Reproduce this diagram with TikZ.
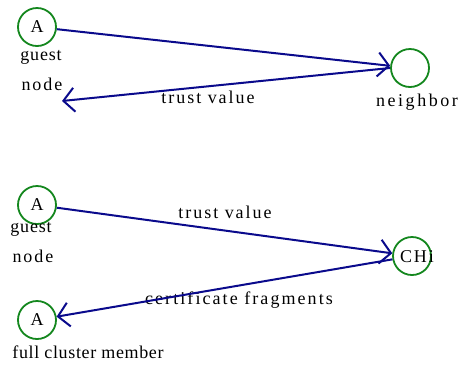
\documentclass[tikz,border=0pt]{standalone}
\usepackage{fontspec}
\setmainfont{Liberation Serif}
\usetikzlibrary{arrows.meta}
\definecolor{ringgreen}{RGB}{20,135,30}
\definecolor{linknavy}{RGB}{10,10,140}
\tikzset{
  peer/.style={circle, draw=ringgreen, line width=1.8pt, minimum size=38pt, inner sep=0pt, font=\fontsize{18}{18}\selectfont},
  caption/.style={anchor=base, inner sep=0pt, font=\fontsize{18}{18}\selectfont\addfontfeature{LetterSpace=#1}},
  caption/.default=8,
  link/.style={draw=linknavy, line width=2pt, -{Straight Barb[length=11pt,width=24pt,line width=2pt]}}
}
\begin{document}
\begin{tikzpicture}[x=1pt,y=-1pt]
\useasboundingbox (0,0) rectangle (462,365);
% upper exchange: guest node and neighbor
\node[peer] (a1) at (37,27) {A};
\node[peer] (nb) at (410,68) {};
\coordinate (ret1) at (62,101);
\node[caption=4.5] (g1) at (41,60) {guest};
\node[caption=11] (n1) at (42,90) {node};
\node[caption=14] (nbl) at (417,106) {neighbor};
\node[caption=11] (tv1) at (208,103) {trust value};
\draw[link] (a1) -- (nb);
\draw[link] (nb.west) -- (ret1);
% lower exchange: guest node, cluster head and full member
\node[peer] (a2) at (37,205) {A};
\node[peer] (chi) at (412,256) {};
\node[caption=11] (chil) at (417,262) {CHi};
\node[peer] (a3) at (37,320) {A};
\node[caption=4.5] (g2) at (31,232) {guest};
\node[caption=11] (n2) at (33,262) {node};
\node[caption=11] (tv2) at (225,218) {trust value};
\node[caption=11.5] (cf) at (239,304) {certificate fragments};
\node[caption=3.5] (fm) at (88,358) {full cluster member};
\draw[link] (a2) -- (chi);
\draw[link] (chi) -- (a3);
\end{tikzpicture}
\end{document}
